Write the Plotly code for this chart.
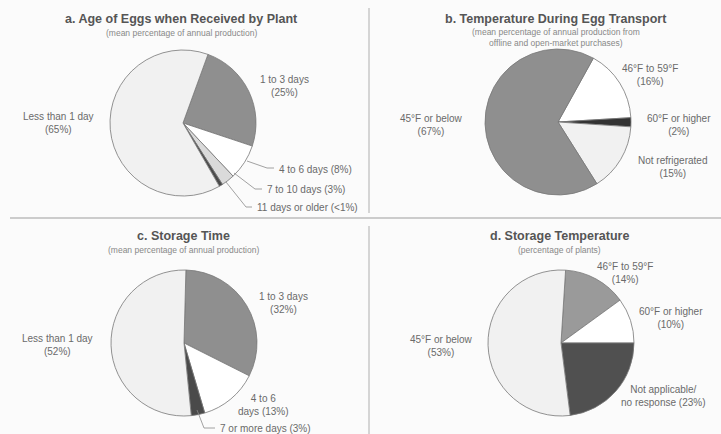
import plotly.graph_objects as go

W, H = 721, 434

# ---- data ----
a_labels = ["1 to 3 days", "4 to 6 days", "7 to 10 days", "11 days or older", "Less than 1 day"]
a_values = [25, 8, 3, 0.8, 65]
a_text = ["1 to 3 days<br>(25%)", "4 to 6 days (8%)", "7 to 10 days (3%)", "11 days or older (<1%)", "Less than 1 day<br>(65%)"]

b_labels = ["46°F to 59°F", "60°F or higher", "Not refrigerated", "45°F or below"]
b_values = [16, 2, 15, 67]
b_text = ["46°F to 59°F<br>(16%)", "60°F or higher<br>(2%)", "Not refrigerated<br>(15%)", "45°F or below<br>(67%)"]

c_labels = ["1 to 3 days", "4 to 6 days", "7 or more days", "Less than 1 day"]
c_values = [32, 13, 3, 52]
c_text = ["1 to 3 days<br>(32%)", "4 to 6<br>days (13%)", "7 or more days (3%)", "Less than 1 day<br>(52%)"]

d_labels = ["46°F to 59°F", "60°F or higher", "Not applicable/no response", "45°F or below"]
d_values = [14, 10, 23, 53]
d_text = ["46°F to 59°F<br>(14%)", "60°F or higher<br>(10%)", "Not applicable/<br>no response (23%)", "45°F or below<br>(53%)"]

titles = ["a. Age of Eggs when Received by Plant", "b. Temperature During Egg Transport",
          "c. Storage Time", "d. Storage Temperature"]
subtitles = ["(mean percentage of annual production)",
             "(mean percentage of annual production from<br>offline and open-market purchases)",
             "(mean percentage of annual production)",
             "(percentage of plants)"]

# ---- styling ----
LIGHT, MID, WHITE, PALE, DARK = "#f1f1f1", "#8f8f8f", "#ffffff", "#dadada", "#4a4a4a"
a_colors = [MID, WHITE, PALE, DARK, LIGHT]
b_colors = [WHITE, "#333333", LIGHT, MID]
c_colors = [MID, WHITE, DARK, LIGHT]
d_colors = ["#9a9a9a", WHITE, "#505050", LIGHT]

def px_x(x):
    return x / W

def px_y(y):
    return 1 - y / H

def dom(cx, cy, d):
    return dict(x=[px_x(cx - d / 2), px_x(cx + d / 2)], y=[px_y(cy + d / 2), px_y(cy - d / 2)])

D = 146
pies = [
    (a_labels, a_values, a_colors, (183, 123), 20),
    (b_labels, b_values, b_colors, (558, 122), 29),
    (c_labels, c_values, c_colors, (184, 343), 1.5),
    (d_labels, d_values, d_colors, (561, 343), 3.6),
]

fig = go.Figure()
for labs, vals, cols, (cx, cy), rot in pies:
    fig.add_trace(go.Pie(
        labels=labs, values=vals, sort=False, direction="clockwise", rotation=rot,
        marker=dict(colors=cols, line=dict(color="#777777", width=0.8)),
        textinfo="none", hoverinfo="label+percent", showlegend=False,
        domain=dom(cx, cy, D),
    ))

FONT = "Liberation Sans, Arial, sans-serif"
TXT = "#6a6a6a"
ann = []

def add_text(x, y, text, size=10, color=TXT, xanchor="center", bold=False):
    ann.append(dict(x=px_x(x), y=px_y(y), xref="paper", yref="paper", text=(f"<b>{text}</b>" if bold else text),
                    showarrow=False, xanchor=xanchor, yanchor="middle", align="center",
                    font=dict(family=FONT, size=size, color=color)))

# titles
title_pos = [(181, 19, 33), (556, 19, 33), (183, 236, 250), (559, 236, 250)]
for (tx, ty, sy), t, s in zip(title_pos, titles, subtitles):
    add_text(tx, ty, t, size=12.5, color="#555555", bold=True)
    if "<br>" in s:
        add_text(tx, sy + 5, s, size=8.5, color="#888888")
    else:
        add_text(tx, sy, s, size=8.5, color="#888888")

# slice labels
add_text(284, 86, a_text[0])
add_text(58, 123, a_text[4])
add_text(277, 169, a_text[1], xanchor="left")
add_text(265, 189, a_text[2], xanchor="left")
add_text(255, 207, a_text[3], xanchor="left")

add_text(650, 75, b_text[0])
add_text(679, 125, b_text[1])
add_text(672, 167, b_text[2])
add_text(432, 125, b_text[3])

add_text(283, 303, c_text[0])
add_text(263, 405, c_text[1])
add_text(218, 428, c_text[2], xanchor="left")
add_text(57, 345, c_text[3])

add_text(625, 273, d_text[0])
add_text(671, 318, d_text[1])
add_text(663, 396, d_text[2])
add_text(442, 346, d_text[3])

shapes = []
def line(x0, y0, x1, y1, color="#8a8a8a", width=0.8):
    shapes.append(dict(type="line", xref="paper", yref="paper", x0=px_x(x0), y0=px_y(y0),
                       x1=px_x(x1), y1=px_y(y1), line=dict(color=color, width=width)))

# leader lines
line(247, 161, 267, 168); line(267, 168, 274, 168)
line(234, 173, 255, 189); line(255, 189, 262, 189)
line(226, 182, 246, 207); line(246, 207, 252, 207)
line(197, 410, 204, 428); line(204, 428, 215, 428)

# dividers
line(369, 8, 369, 213, color="#c8c8c8", width=1.5)
line(10, 218, 721, 218, color="#cccccc", width=2)
line(369, 226, 369, 434, color="#c8c8c8", width=1.5)

fig.update_layout(
    width=W, height=H, margin=dict(l=0, r=0, t=0, b=0),
    paper_bgcolor="#fbfbfb", plot_bgcolor="#fbfbfb",
    annotations=ann, shapes=shapes, font=dict(family=FONT),
)
fig.write_html("out.html", config={"displayModeBar": False},
               post_script="document.body.style.margin='0';document.body.style.overflow='hidden';")
